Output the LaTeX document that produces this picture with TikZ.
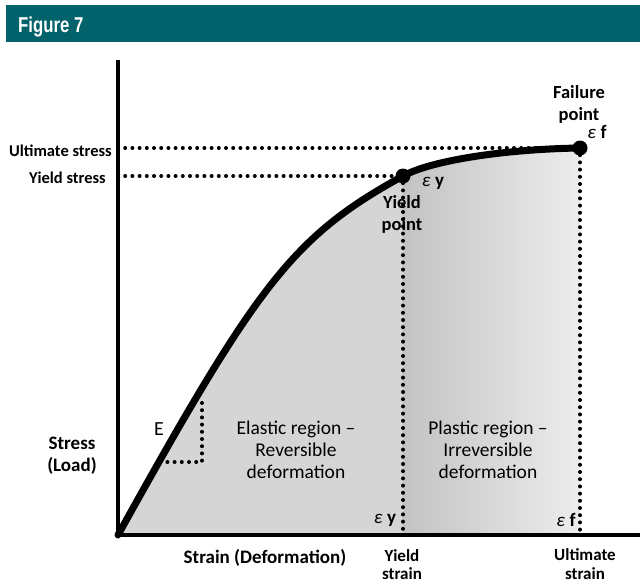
\documentclass[tikz,border=0pt]{standalone}
\usepackage{fontspec}
\setmainfont{Carlito}
\newfontfamily\headfont[FakeStretch=0.78]{Liberation Sans}
\definecolor{teal7}{RGB}{2,98,108}
\definecolor{elastic}{RGB}{213,213,213}
\definecolor{plastL}{RGB}{195,195,195}
\definecolor{plastR}{RGB}{236,236,236}
\tikzset{
  lbl/.style={font=\bfseries\fontsize{16.5}{20}\selectfont, align=center, inner sep=0pt},
  ptlbl/.style={font=\bfseries\fontsize{18.5}{22}\selectfont, align=center, inner sep=0pt},
  axlbl/.style={font=\bfseries\fontsize{19}{22}\selectfont, align=center, inner sep=0pt},
  reg/.style={font=\fontsize{19.5}{22}\selectfont, align=center, inner sep=0pt},
  eps/.style={font=\fontsize{19}{21}\selectfont, inner sep=0pt},
  dotline/.style={line width=4pt, line cap=round, dash pattern=on 0pt off 7.2pt},
  bigdot/.style={circle, fill=black, minimum size=15pt, inner sep=0pt},
  axis/.style={line width=3.6pt},
}
\newcommand\stresscurve{(118,535) .. controls (258,283) and (293,236.5) .. (403,176) .. controls (433,159.5) and (510,149) .. (580,148)}
\begin{document}
\begin{tikzpicture}[x=1pt,y=-1pt]
\useasboundingbox (0,0) rectangle (640,584);
% header
\fill[teal7] (6,5) rectangle (640,42);
\node[anchor=base west, inner sep=0pt, text=white, font=\headfont\bfseries\fontsize{21.5}{24}\selectfont] (title) at (18,32) {Figure 7};

% coordinates
\coordinate (O) at (118,535);
\coordinate (Ytop) at (118,60);
\coordinate (Xend) at (640,535);
\coordinate (YP) at (403,176);
\coordinate (FP) at (580,148);
\coordinate (YS) at (118,176);
\coordinate (US) at (118,148);
\coordinate (YB) at (403,535);
\coordinate (FB) at (580,535);
\coordinate (E1) at (202,403);
\coordinate (E2) at (202,462);
\coordinate (E3) at (167,462);

% shaded area
\begin{scope}
\clip \stresscurve -- (580,535) -- cycle;
\fill[elastic] (118,100) rectangle (403,535);
\shade[left color=plastL, right color=plastR] (403,100) rectangle (580,535);
\end{scope}

% dotted guides
\draw[dotline] (US) -- (FP);
\draw[dotline] (YS) -- (YP);
\draw[dotline] (YP) -- (YB);
\draw[dotline] (FP) -- (FB);
\draw[dotline] (E1) -- (E2) -- (E3);

% curve
\draw[line width=7pt, line cap=round, line join=round] \stresscurve;

% axes
\draw[axis] (Ytop) -- (O) -- (Xend);

% points
\node[bigdot] (yp) at (YP) {};
\node[bigdot] (fp) at (FP) {};

% labels
\node[lbl, anchor=east] (ult) at (112,151) {Ultimate stress};
\node[lbl, anchor=east] (yst) at (106,178) {Yield stress};
\node[axlbl] (stress) at (72,456) {Stress\\(Load)};
\node[axlbl] (strain) at (265,558) {Strain (Deformation)};
\node[font=\fontsize{20}{22}\selectfont, inner sep=0pt] (E) at (159,429) {E};
\node[reg] (el) at (296,450) {Elastic region –\\Reversible\\deformation};
\node[reg] (pl) at (488,450) {Plastic region –\\Irreversible\\deformation};
\node[eps] (ey1) at (385,520) {{\itshape ε} \textbf{y}};
\node[eps] (ef1) at (566,520) {{\itshape ε} \textbf{f}};
\node[eps] (ey2) at (433,183) {{\itshape ε} \textbf{y}};
\node[eps] (ef2) at (597,132) {{\itshape ε} \textbf{f}};
\node[lbl, font=\bfseries\fontsize{17}{18}\selectfont] (ystrain) at (402,565) {Yield\\strain};
\node[lbl, font=\bfseries\fontsize{17}{19}\selectfont] (ustrain) at (585,564) {Ultimate\\strain};
\node[ptlbl] (fpt) at (579,104) {Failure\\point};
\node[ptlbl] (ypt) at (402,214) {Yield\\point};
\end{tikzpicture}
\end{document}
